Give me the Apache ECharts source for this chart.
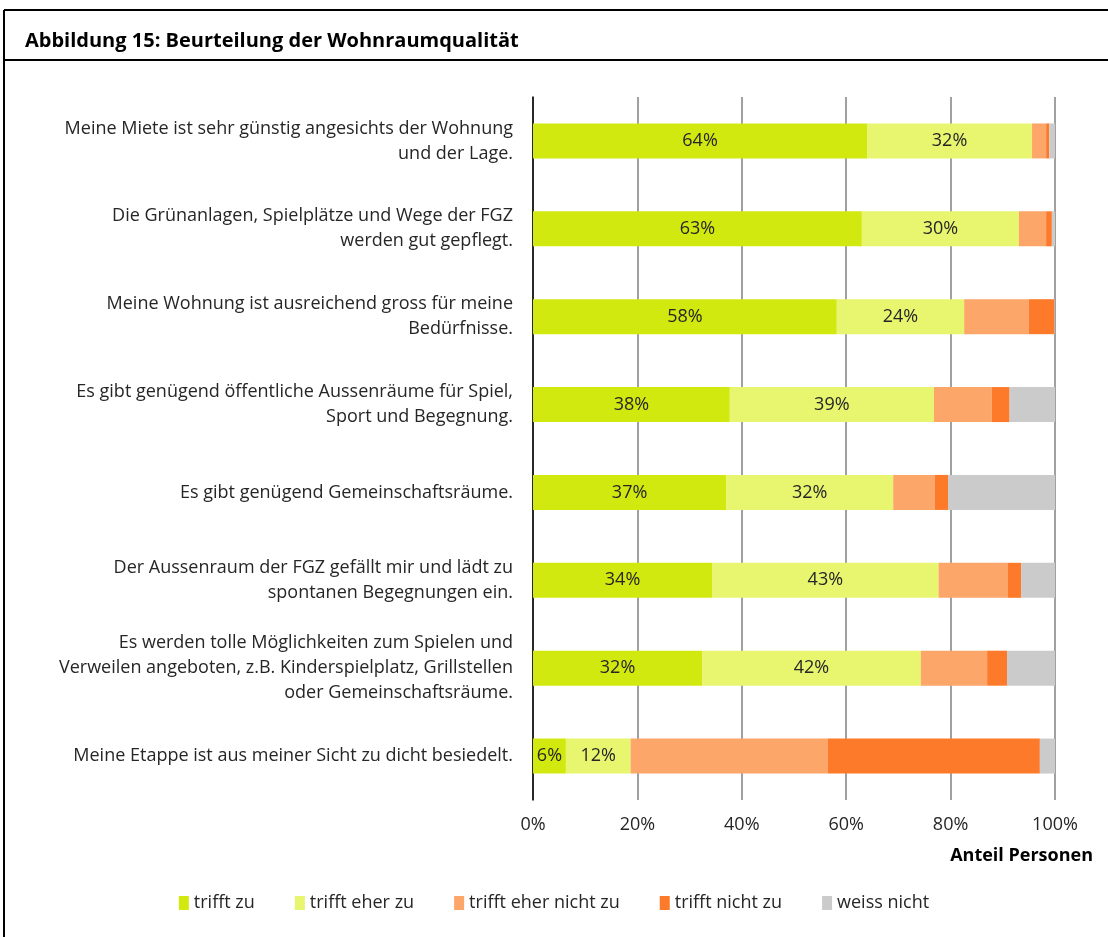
<!DOCTYPE html>
<html>
<head>
<meta charset="utf-8">
<script src="https://cdn.jsdelivr.net/npm/echarts@6/dist/echarts.min.js"></script>
<style>
  html, body { margin: 0; padding: 0; background: #fff; }
  #main { width: 1108px; height: 937px; }
</style>
</head>
<body>
<div id="main"></div>
<script>
// Kategorien (von oben nach unten)
var categories = [
  "Meine Miete ist sehr günstig angesichts der Wohnung\nund der Lage.",
  "Die Grünanlagen, Spielplätze und Wege der FGZ\nwerden gut gepflegt.",
  "Meine Wohnung ist ausreichend gross für meine\nBedürfnisse.",
  "Es gibt genügend öffentliche Aussenräume für Spiel,\nSport und Begegnung.",
  "Es gibt genügend Gemeinschaftsräume.",
  "Der Aussenraum der FGZ gefällt mir und lädt zu\nspontanen Begegnungen ein.",
  "Es werden tolle Möglichkeiten zum Spielen und\nVerweilen angeboten, z.B. Kinderspielplatz, Grillstellen\noder Gemeinschaftsräume.",
  "Meine Etappe ist aus meiner Sicht zu dicht besiedelt."
];
var trifftZu = [64, 63, 58.2, 37.7, 37, 34.3, 32.4, 6.3];
var trifftEherZu = [31.6, 30.1, 24.4, 39.1, 32, 43.4, 41.9, 12.4];
var trifftEherNichtZu = [2.7, 5.2, 12.4, 11.1, 8, 13.2, 12.7, 37.8];
var trifftNichtZu = [0.6, 1.1, 4.9, 3.4, 2.5, 2.6, 3.8, 40.6];
var weissNicht = [1.1, 0.6, 0.1, 8.7, 20.5, 6.5, 9.2, 2.9];
var xTicks = [0, 20, 40, 60, 80, 100];

var font = "Open Sans";
var myChart = echarts.init(document.getElementById("main"));

function bar(name, data, color, showLabel) {
  return {
    name: name,
    type: "bar",
    stack: "total",
    barWidth: 35,
    data: data,
    itemStyle: { color: color },
    label: {
      show: showLabel,
      position: "inside",
      color: "#262626",
      fontFamily: font,
      fontSize: 18,
      formatter: function (p) {
        return Math.round(p.value) + "%";
      },
    },
  };
}

var option = {
  animation: false,
  backgroundColor: "#fff",
  textStyle: { fontFamily: font },
  title: {
    text: "Abbildung 15: Beurteilung der Wohnraumqualität",
    left: 20,
    top: 26,
    textStyle: { fontFamily: font, fontSize: 20, fontWeight: "bold", color: "#000" },
  },
  graphic: [
    { type: "line", shape: { x1: 4, y1: 10, x2: 1108, y2: 10 }, style: { stroke: "#000", lineWidth: 2 } },
    { type: "line", shape: { x1: 4, y1: 60, x2: 1108, y2: 60 }, style: { stroke: "#000", lineWidth: 2 } },
    { type: "line", shape: { x1: 4, y1: 10, x2: 4, y2: 937 }, style: { stroke: "#000", lineWidth: 2 } },
    {
      type: "text",
      right: 15,
      top: 847,
      style: { text: "Anteil Personen", font: "bold 18px 'Open Sans'", fill: "#000" },
    },
  ],
  legend: {
    bottom: 20,
    left: "center",
    itemWidth: 10,
    itemHeight: 14,
    itemGap: 40,
    icon: "rect",
    textStyle: { fontFamily: font, fontSize: 18, color: "#262626" },
  },
  grid: { left: 533, right: 53, top: 97, bottom: 137 },
  xAxis: {
    type: "value",
    min: 0,
    max: 100,
    interval: 20,
    axisLine: { show: false },
    axisTick: { show: false },
    splitLine: { lineStyle: { color: "#808080", width: 1.5 } },
    axisLabel: {
      margin: 16,
      fontFamily: font,
      fontSize: 18,
      color: "#262626",
      formatter: function (v) {
        return xTicks.indexOf(v) >= 0 ? v + "%" : "";
      },
    },
  },
  yAxis: {
    type: "category",
    inverse: true,
    data: categories,
    axisLine: { show: true, lineStyle: { color: "#000", width: 1.5 } },
    axisTick: { show: false },
    axisLabel: {
      margin: 20,
      align: "right",
      fontFamily: font,
      fontSize: 18,
      lineHeight: 25,
      color: "#262626",
    },
  },
  series: [
    bar("trifft zu", trifftZu, "#d2e90f", true),
    bar("trifft eher zu", trifftEherZu, "#e7f56f", true),
    bar("trifft eher nicht zu", trifftEherNichtZu, "#fda66a", false),
    bar("trifft nicht zu", trifftNichtZu, "#fd7a2a", false),
    bar("weiss nicht", weissNicht, "#cbcbcb", false),
  ],
};

myChart.setOption(option);
</script>
</body>
</html>
